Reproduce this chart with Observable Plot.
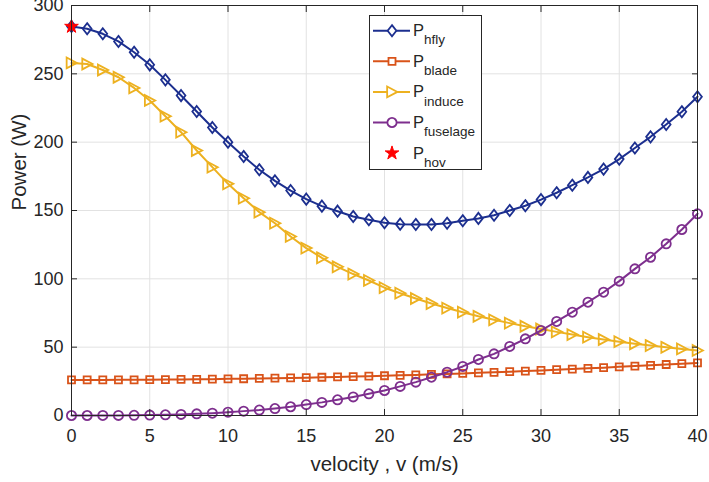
<!DOCTYPE html>
<html><head><meta charset="utf-8">
<script src="https://cdn.jsdelivr.net/npm/d3@7"></script>
<script src="https://cdn.jsdelivr.net/npm/@observablehq/plot@0.6"></script>
<style>
html,body{margin:0;padding:0;background:#fff;}
#chart{width:709px;height:482px;}
</style></head><body><div id="chart"></div>
<script>
const velocity = [0,1,2,3,4,5,6,7,8,9,10,11,12,13,14,15,16,17,18,19,20,21,22,23,24,25,26,27,28,29,30,31,32,33,34,35,36,37,38,39,40];
const P_hfly = [284.6,283,279.3,273.7,265.8,256.6,245.6,234.1,222.4,210.7,200,189.5,179.8,171.7,164.6,158.3,153.2,149.5,145.6,143.2,141,140,139.8,139.8,140.7,142.5,144.2,146.5,150,153.5,158,163,168.5,174.2,180.3,187.6,195.7,203.9,212.9,222.3,233.2];
const P_blade = [26,26,26,26.1,26.1,26.2,26.3,26.4,26.5,26.6,26.8,26.9,27.1,27.3,27.5,27.7,28,28.2,28.5,28.8,29.1,29.4,29.7,30.1,30.4,30.8,31.2,31.6,32.1,32.5,33,33.5,34,34.5,35,35.6,36.2,36.7,37.3,37.9,38.5];
const P_induce = [258,257.2,252.8,247.5,239.7,230.5,219,207.3,193.9,181.7,169.5,159,148.8,140.7,131,122.5,115.4,108.8,103.5,98.8,93.5,89.5,85.6,81.9,78.6,75.6,72.6,70,67.6,65.3,63.3,61.2,59.2,57.3,55.6,54,52.5,51.2,49.9,48.7,47.6];
const P_fuselage = [0,0,0.02,0.06,0.15,0.3,0.5,0.8,1.2,1.7,2.4,3.2,4,5.1,6.4,8,9.6,11.5,13.6,15.9,18.3,21.3,24.4,28,31.7,35.9,41,45.1,50.5,56.1,62.2,68.8,75.6,82.9,90.2,98.3,107.3,115.8,125.6,136.1,147.6];
const P_hov = 284.6;
const xTicks = [0,5,10,15,20,25,30,35,40];
const yTicks = [0,50,100,150,200,250,300];
const subscripts = ["hfly","blade","induce","fuselage","hov"];
const colors = ["#1c2f8f","#D95319","#EDB120","#7E2F8E","#ff0000"];
const xLabel = "velocity , v (m/s)";
const yLabel = "Power (W)";

const rows = velocity.map((v,i)=>({v, hfly:P_hfly[i], blade:P_blade[i], induce:P_induce[i], fuselage:P_fuselage[i]}));

const tallDiamond = {draw(ctx,size){const r=Math.sqrt(size/Math.PI);const w=r*0.78;ctx.moveTo(0,-r);ctx.lineTo(w,0);ctx.lineTo(0,r);ctx.lineTo(-w,0);ctx.closePath();}};
const triRight = {draw(ctx,size){const r=Math.sqrt(size/Math.PI);ctx.moveTo(-r*0.9,-r);ctx.lineTo(r,0);ctx.lineTo(-r*0.9,r);ctx.closePath();}};
const square = {draw(ctx,size){const r=Math.sqrt(size/Math.PI);ctx.rect(-r,-r,2*r,2*r);}};
const circle = {draw(ctx,size){const r=Math.sqrt(size/Math.PI);ctx.moveTo(r,0);ctx.arc(0,0,r,0,2*Math.PI);}};

const series = [
  {key:"hfly", color:colors[0], symbol:tallDiamond, r:5.6},
  {key:"blade", color:colors[1], symbol:square, r:3.5},
  {key:"induce", color:colors[2], symbol:triRight, r:5.4},
  {key:"fuselage", color:colors[3], symbol:circle, r:4.6}
];

const font = "'Liberation Sans', Arial, Helvetica, sans-serif";
const axisColor = "#262626";
const starR = 4.3;

const marks = [
  Plot.gridX({ticks:xTicks, stroke:"#e2e2e2", strokeOpacity:1}),
  Plot.gridY({ticks:yTicks, stroke:"#e2e2e2", strokeOpacity:1}),
  ...series.flatMap(s => [
    Plot.line(rows, {x:"v", y:s.key, stroke:s.color, strokeWidth:2}),
    Plot.dot(rows, {x:"v", y:s.key, stroke:s.color, fill:"none", symbol:s.symbol, r:s.r, strokeWidth:1.8})
  ]),
  Plot.dot([{v:velocity[0], p:P_hov}], {x:"v", y:"p", symbol:"star", fill:colors[4], stroke:colors[4], r:starR, strokeWidth:1}),
  Plot.frame({stroke:axisColor, strokeWidth:1}),
  Plot.axisX({ticks:xTicks, anchor:"bottom", tickSize:0, tickPadding:14, label:null, fontSize:18, fill:axisColor}),
  Plot.axisY({ticks:yTicks, anchor:"left", tickSize:0, tickPadding:8, label:null, fontSize:18, fill:axisColor}),
  Plot.axisX({ticks:xTicks, anchor:"bottom", tickSize:-6, tickFormat:()=>"", label:null, stroke:axisColor}),
  Plot.axisX({ticks:xTicks, anchor:"top", tickSize:-6, tickFormat:()=>"", label:null, stroke:axisColor}),
  Plot.axisY({ticks:yTicks, anchor:"left", tickSize:-6, tickFormat:()=>"", label:null, stroke:axisColor}),
  Plot.axisY({ticks:yTicks, anchor:"right", tickSize:-6, tickFormat:()=>"", label:null, stroke:axisColor}),
  Plot.text([xLabel], {frameAnchor:"bottom", dy:55, lineAnchor:"bottom", fontSize:20.5, fill:axisColor}),
  Plot.text([yLabel], {frameAnchor:"left", dx:-46, rotate:-90, lineAnchor:"bottom", fontSize:20.5, fill:axisColor})
];

const plot = Plot.plot({
  width:709, height:482,
  marginLeft:71, marginRight:12, marginTop:5, marginBottom:67,
  x:{domain:[0,40]},
  y:{domain:[0,300]},
  style:{fontFamily:font, fontSize:"18px", color:axisColor, background:"#fff", overflow:"visible"},
  marks
});
document.getElementById("chart").appendChild(plot);

// Legend
const svg = d3.select(plot);
const lg = svg.append("g").attr("font-family", font).attr("fill", axisColor).attr("text-anchor","start");
lg.append("rect").attr("x",369.5).attr("y",15.5).attr("width",112).attr("height",154)
  .attr("fill","#fff").attr("stroke",axisColor).attr("stroke-width",1);
const legendSymbols = [tallDiamond, square, triRight, circle, d3.symbolStar];
const legendSizes = [5.6, 3.5, 5.4, 4.6, starR];
subscripts.forEach((sub,i)=>{
  const cy = 30.7 + i*30.6;
  const g = lg.append("g");
  if (i < 4) {
    g.append("line").attr("x1",373).attr("x2",410).attr("y1",cy).attr("y2",cy)
      .attr("stroke",colors[i]).attr("stroke-width",2);
  }
  const r = legendSizes[i];
  g.append("path").attr("transform",`translate(392,${cy})`)
    .attr("d", d3.symbol(legendSymbols[i], Math.PI*r*r)())
    .attr("fill", i===4 ? colors[4] : "#fff")
    .attr("stroke", colors[i]).attr("stroke-width", i===4 ? 1 : 1.8);
  const t = g.append("text").attr("x",413).attr("y",cy+5.5).attr("font-size",16.5).attr("fill",axisColor).attr("text-anchor","start");
  t.append("tspan").text("P");
  t.append("tspan").attr("dy",8.2).attr("font-size",13.5).text(sub);
});
</script>
</body></html>
